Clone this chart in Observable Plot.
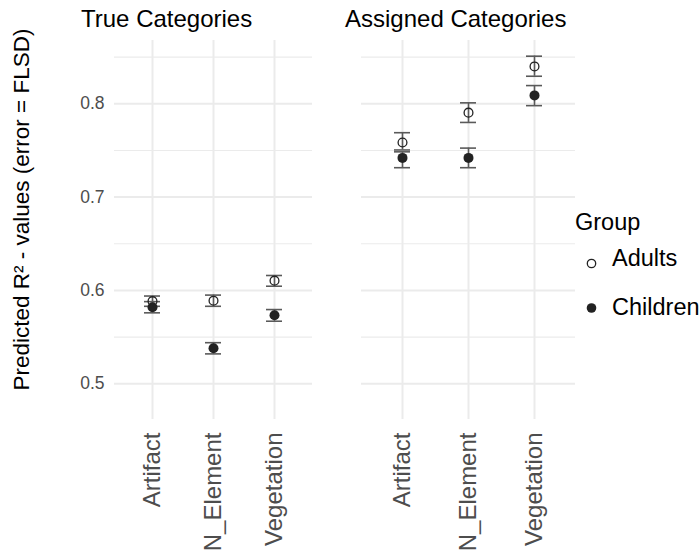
<!DOCTYPE html>
<html>
<head>
<meta charset="utf-8">
<script src="https://cdn.jsdelivr.net/npm/d3@7"></script>
<script src="https://cdn.jsdelivr.net/npm/@observablehq/plot@0.6"></script>
<style>
  html, body { margin: 0; padding: 0; background: #fff; }
  #wrap { position: relative; width: 699px; height: 555px; font-family: "Liberation Sans", Arial, Helvetica, sans-serif; }
  #wrap svg { position: absolute; top: 0; overflow: visible; }
  #wrap [aria-label^="x-axis"] text { font-size: 24px; fill: #4d4d4d; }
  #wrap [aria-label^="y-axis"] text { font-size: 17.5px; fill: #4d4d4d; }
  #overlay text { font-family: "Liberation Sans", Arial, Helvetica, sans-serif; }
</style>
</head>
<body>
<div id="wrap"></div>
<script>
// ---- data ----
const categories = ["Artifact", "N_Element", "Vegetation"];
const groups = ["Adults", "Children"];

// True Categories panel
const trueAdults     = [0.5885, 0.589, 0.6105];
const trueAdultsLo   = [0.583,  0.583, 0.6045];
const trueAdultsHi   = [0.594,  0.595, 0.616];
const trueChildren   = [0.582,  0.538, 0.5735];
const trueChildrenLo = [0.576,  0.532, 0.567];
const trueChildrenHi = [0.588,  0.544, 0.5795];

// Assigned Categories panel
const assignedAdults     = [0.7585, 0.7905, 0.840];
const assignedAdultsLo   = [0.7505, 0.780,  0.8295];
const assignedAdultsHi   = [0.769,  0.801,  0.851];
const assignedChildren   = [0.742,  0.742,  0.809];
const assignedChildrenLo = [0.7315, 0.7315, 0.798];
const assignedChildrenHi = [0.7485, 0.7525, 0.8195];

const yDomain = [0.4617, 0.8678];
const majorTicks = [0.5, 0.6, 0.7, 0.8];
const minorTicks = [0.55, 0.65, 0.75, 0.85];

const titles = ["True Categories", "Assigned Categories"];
const yLabel = "Predicted R\u00B2 - values (error = FLSD)";
const legendTitle = "Group";

function rows(a, aLo, aHi, c, cLo, cHi) {
  const out = [];
  categories.forEach((cat, i) => {
    out.push({cat, group: groups[0], v: a[i], lo: aLo[i], hi: aHi[i]});
    out.push({cat, group: groups[1], v: c[i], lo: cLo[i], hi: cHi[i]});
  });
  return out;
}

function panel(data, {width, marginLeft, showY, pI, pO}) {
  const adults = data.filter(d => d.group === groups[0]);
  const children = data.filter(d => d.group === groups[1]);
  return Plot.plot({
    width, height: 555,
    marginLeft, marginRight: 0, marginTop: 40, marginBottom: 136,
    style: {background: "transparent", fontFamily: "Liberation Sans, Arial, sans-serif"},
    x: {type: "band", domain: categories, paddingInner: pI, paddingOuter: pO,
        tickRotate: -90, tickSize: 0, tickPadding: 13, label: null},
    y: showY
      ? {domain: yDomain, ticks: majorTicks, tickSize: 0, tickPadding: 10, tickFormat: ".1f", label: null}
      : {domain: yDomain, axis: null},
    marks: [
      Plot.ruleY(minorTicks, {stroke: "#ebebeb", strokeWidth: 1.1}),
      Plot.ruleY(majorTicks, {stroke: "#ebebeb", strokeWidth: 2}),
      Plot.ruleX(categories, {x: d => d, stroke: "#ebebeb", strokeWidth: 2}),
      Plot.ruleX(data, {x: "cat", y1: "lo", y2: "hi", stroke: "#5a5a5a", strokeWidth: 1.6}),
      Plot.tickY(data, {x: "cat", y: "lo", stroke: "#5a5a5a", strokeWidth: 1.6}),
      Plot.tickY(data, {x: "cat", y: "hi", stroke: "#5a5a5a", strokeWidth: 1.6}),
      Plot.dot(children, {x: "cat", y: "v", r: 5, fill: "#222", stroke: "none"}),
      Plot.dot(adults, {x: "cat", y: "v", r: 4.4, fill: "none", stroke: "#222", strokeWidth: 1.3})
    ]
  });
}

const wrap = document.getElementById("wrap");
const left = panel(rows(trueAdults, trueAdultsLo, trueAdultsHi, trueChildren, trueChildrenLo, trueChildrenHi),
  {width: 312, marginLeft: 114, showY: true, pI: 0.741, pO: 0.4706});
left.style.left = "0px";
wrap.appendChild(left);

const right = panel(rows(assignedAdults, assignedAdultsLo, assignedAdultsHi, assignedChildren, assignedChildrenLo, assignedChildrenHi),
  {width: 214, marginLeft: 0, showY: false, pI: 0.761, pO: 0.4804});
right.style.left = "361px";
wrap.appendChild(right);

// overlay: titles, y label, legend
const ov = d3.select(wrap).append("svg").attr("id", "overlay")
  .attr("width", 699).attr("height", 555).style("left", "0px").style("pointer-events", "none");

ov.append("text").attr("x", 81).attr("y", 27.3).attr("font-size", 24).attr("fill", "#000").text(titles[0]);
ov.append("text").attr("x", 345).attr("y", 27.3).attr("font-size", 24).attr("fill", "#000").text(titles[1]);

ov.append("text")
  .attr("transform", "translate(28.5,209.5) rotate(-90)")
  .attr("text-anchor", "middle").attr("font-size", 22.5).attr("fill", "#000")
  .text(yLabel);

ov.append("text").attr("x", 575).attr("y", 230).attr("font-size", 23.5).attr("fill", "#000").text(legendTitle);
const legendY = [263.5, 308];
const textY = [265.5, 315];
groups.forEach((g, i) => {
  ov.append("circle").attr("cx", 591.5).attr("cy", legendY[i]).attr("r", i === 0 ? 4.2 : 4.8)
    .attr("fill", i === 0 ? "none" : "#222").attr("stroke", i === 0 ? "#222" : "none").attr("stroke-width", 1.3);
  ov.append("text").attr("x", 612).attr("y", textY[i]).attr("font-size", 23.5).attr("fill", "#000").text(g);
});
</script>
</body>
</html>
